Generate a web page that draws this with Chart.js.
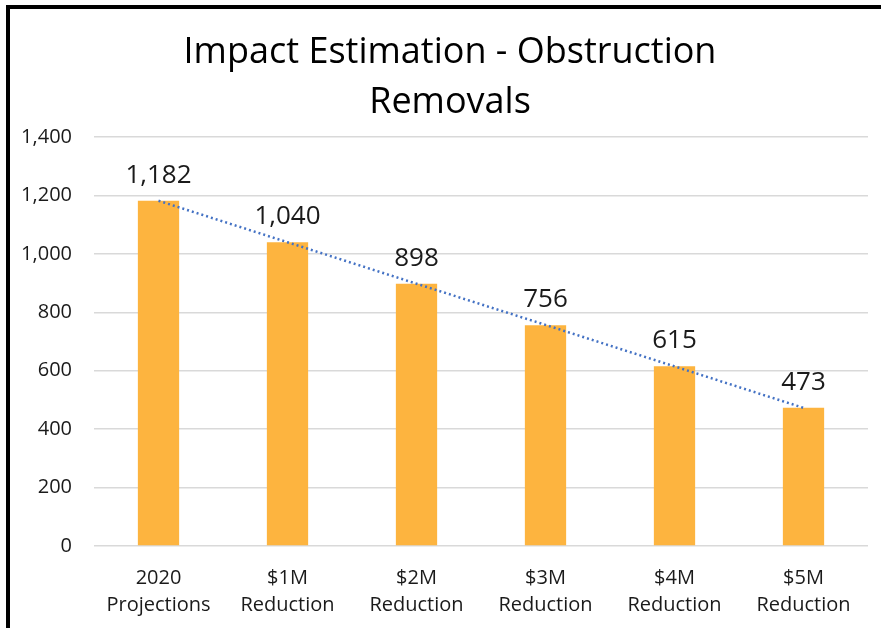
<!DOCTYPE html>
<html>
<head>
<meta charset="utf-8">
<script src="https://cdn.jsdelivr.net/npm/chart.js@4"></script>
<style>
  html, body { margin: 0; padding: 0; background: #fff; }
  #frame {
    position: absolute; left: 6px; top: 5px;
    width: 871px; height: 619px;
    border-left: 4px solid #000; border-top: 4px solid #000;
  }
  #chart { display: block; }
</style>
</head>
<body>
<div id="frame"><canvas id="chart" width="871" height="619"></canvas></div>
<script>
var categories = [["2020", "Projections"], ["$1M", "Reduction"], ["$2M", "Reduction"],
                  ["$3M", "Reduction"], ["$4M", "Reduction"], ["$5M", "Reduction"]];
var removals = [1182, 1040, 898, 756, 615, 473];
var trend = [1182, 1040, 898, 757, 615, 473];   // linear trendline as drawn
var titleLines = ["Impact Estimation - Obstruction", "Removals"];

// draws "1,182" etc. above each bar
var barLabels = {
  id: "barLabels",
  afterDatasetsDraw: function (chart) {
    var ctx = chart.ctx;
    var meta = chart.getDatasetMeta(0);
    ctx.save();
    ctx.font = "26px 'Open Sans'";
    ctx.fillStyle = "#1a1a1a";
    ctx.textAlign = "center";
    ctx.textBaseline = "alphabetic";
    meta.data.forEach(function (bar, i) {
      ctx.fillText(removals[i].toLocaleString("en-US"), bar.x, bar.y - 18);
    });
    ctx.restore();
  }
};

var ctx = document.getElementById("chart").getContext("2d");
new Chart(ctx, {
  data: {
    labels: categories,
    datasets: [
      {
        type: "line",
        data: trend,
        borderColor: "#4472C4",
        borderWidth: 2.5,
        borderDash: [2, 3],
        pointRadius: 0,
        fill: false,
        order: 0
      },
      {
        type: "bar",
        data: removals,
        backgroundColor: "#FDB43F",
        categoryPercentage: 1,
        barPercentage: 0.32,
        order: 1
      }
    ]
  },
  options: {
    responsive: false,
    animation: false,
    layout: { padding: { left: 9, right: 0, top: 0, bottom: 0 } },
    plugins: {
      legend: { display: false },
      tooltip: { enabled: false },
      title: {
        display: true,
        text: titleLines,
        color: "#000",
        font: { family: "'Open Sans'", size: 36, weight: "normal", lineHeight: 1.39 },
        padding: { top: 19, bottom: 9 }
      }
    },
    scales: {
      x: {
        afterFit: function (scale) { scale.height = 82; },
        grid: { display: false },
        border: { display: false },
        ticks: {
          color: "#1a1a1a",
          font: { family: "'Open Sans'", size: 20, lineHeight: 1.35 },
          padding: 11,
          maxRotation: 0
        }
      },
      y: {
        min: 0,
        max: 1400,
        afterFit: function (scale) { scale.width = 75; },
        grid: { color: "#d9d9d9", lineWidth: 1.5, drawTicks: false },
        border: { display: false },
        ticks: {
          stepSize: 200,
          padding: 22,
          color: "#1a1a1a",
          font: { family: "'Open Sans'", size: 20 },
          callback: function (v) { return v.toLocaleString("en-US"); }
        }
      },
      // empty right-hand strip, only to leave the margin on the right
      yRight: {
        position: "right",
        afterFit: function (scale) { scale.width = 13; },
        grid: { display: false },
        border: { display: false },
        ticks: { display: false }
      }
    }
  },
  plugins: [barLabels]
});
</script>
</body>
</html>
